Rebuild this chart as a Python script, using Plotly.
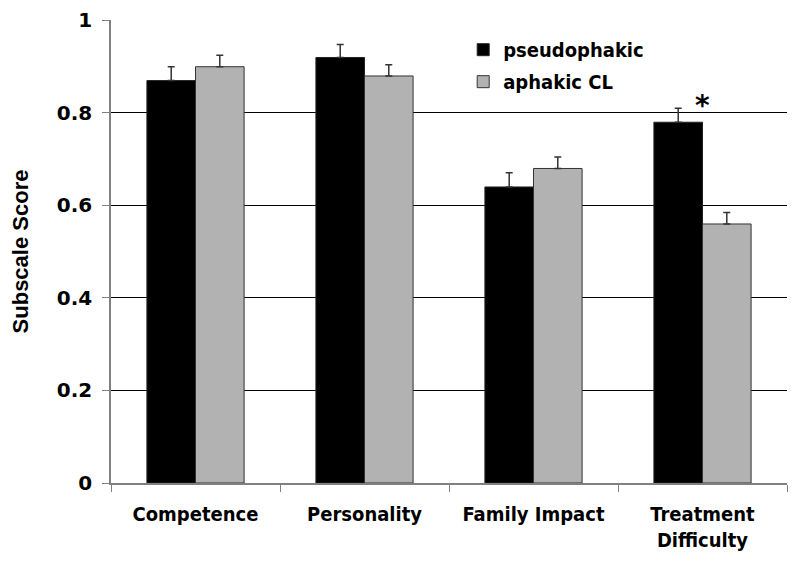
import plotly.graph_objects as go

categories = ["Competence", "Personality", "Family Impact", "Treatment<br>Difficulty"]
pseudophakic = [0.87, 0.92, 0.64, 0.78]
pseudophakic_err = [0.03, 0.028, 0.031, 0.03]
aphakic_cl = [0.90, 0.88, 0.68, 0.56]
aphakic_cl_err = [0.025, 0.024, 0.025, 0.025]
y_ticks = [0, 0.2, 0.4, 0.6, 0.8, 1]
y_tick_labels = ["0", "0.2", "0.4", "0.6", "0.8", "1"]

cond = "DejaVu Sans Condensed, DejaVu Sans"

fig = go.Figure()
fig.add_trace(go.Bar(
    name="pseudophakic", x=categories, y=pseudophakic, legendgroup="a",
    marker=dict(color="black", line=dict(color="#222222", width=1)),
    error_y=dict(type="data", array=pseudophakic_err, arrayminus=[0]*4, symmetric=False,
                 color="#333333", thickness=1.5, width=3.5),
))
fig.add_trace(go.Bar(
    name="aphakic CL", x=categories, y=aphakic_cl, legendgroup="b",
    marker=dict(color="#b2b2b2", line=dict(color="#333333", width=1)),
    error_y=dict(type="data", array=aphakic_cl_err, arrayminus=[0]*4, symmetric=False,
                 color="#333333", thickness=1.5, width=3.5),
))

fig.add_annotation(x=categories[3], y=0.816, text="<b>*</b>", showarrow=False,
                   font=dict(family="DejaVu Sans", size=28, color="black"), yanchor="middle")

fig.update_layout(
    width=800, height=562,
    margin=dict(l=103, r=21, t=12, b=87),
    paper_bgcolor="white", plot_bgcolor="white",
    barmode="group", bargap=0.425, bargroupgap=0,
    showlegend=True,
    legend=dict(x=0.521, y=0.978, xanchor="left", yanchor="top",
                font=dict(family=cond, size=20, color="black", weight="bold"),
                bgcolor="rgba(0,0,0,0)", itemwidth=30, tracegroupgap=3),
    xaxis=dict(
        automargin=False,
        showline=True, linecolor="#808080", linewidth=1.5,
        ticks="outside", tickson="boundaries", ticklen=7, tickcolor="#808080",
        tickfont=dict(family=cond, size=20, color="black", weight="bold"),
        ticklabelstandoff=12,
        showgrid=False,
    ),
    yaxis=dict(
        automargin=False,
        range=[0, 1.001], tickvals=y_ticks, ticktext=y_tick_labels,
        showline=True, linecolor="#808080", linewidth=1.5,
        ticks="outside", ticklen=7, tickcolor="#808080",
        showgrid=True, gridcolor="black", gridwidth=1,
        zeroline=False,
        tickfont=dict(family="DejaVu Sans", size=20, color="black", weight="bold"),
        ticklabelstandoff=6,
        title=dict(text="Subscale Score", font=dict(family="Liberation Sans", size=22, color="black", weight="bold"), standoff=22),
    ),
)

fig.write_html("out.html")
